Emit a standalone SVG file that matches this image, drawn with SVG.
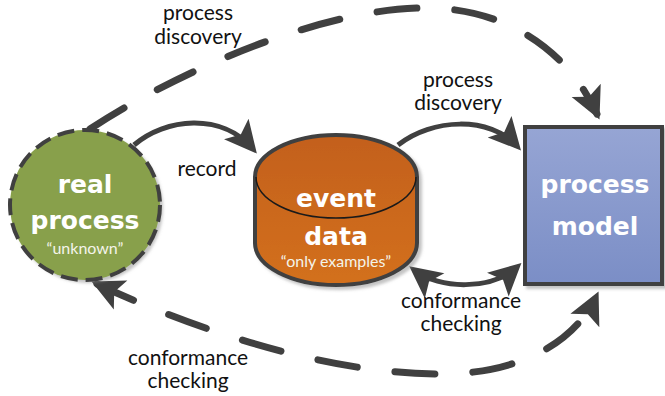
<svg xmlns="http://www.w3.org/2000/svg" width="665" height="396" viewBox="0 0 665 396">
<defs>
<style>
.lbl{font-family:Lato,"Liberation Sans",sans-serif;font-size:21px;fill:#111;text-anchor:middle}
.big{font-family:"DejaVu Sans",sans-serif;font-weight:bold;font-size:25px;fill:#fff;text-anchor:middle}
.sub{font-family:Lato,"Liberation Sans",sans-serif;font-size:16px;fill:#f4f4ea;text-anchor:middle}
.conn{fill:none;stroke:#404040;stroke-width:5}
.dash{fill:none;stroke:#404040;stroke-width:7;stroke-linecap:round;stroke-dasharray:40 38}
</style>
<marker id="ah" markerUnits="userSpaceOnUse" markerWidth="70" markerHeight="70" viewBox="-35 -35 70 70" refX="0" refY="0" orient="auto-start-reverse" overflow="visible">
<path d="M6,0 L-26,-16 L-19,0 L-26,16 Z" fill="#404040"/>
</marker>
<linearGradient id="gRect" x1="0" y1="0" x2="0" y2="1"><stop offset="0" stop-color="#96a5d4"/><stop offset="1" stop-color="#7b8ec6"/></linearGradient>
<linearGradient id="gCyl" x1="0" y1="0" x2="0" y2="1"><stop offset="0" stop-color="#c3601a"/><stop offset="1" stop-color="#d3701f"/></linearGradient>
<filter id="sh" x="-10%" y="-10%" width="130%" height="130%"><feDropShadow dx="3" dy="3" stdDeviation="1.5" flood-color="#888" flood-opacity="0.5"/></filter>
</defs>

<g id="connectors">
<path class="dash" d="M90,129 C180,70 320,10 420,8 C510,6 570,55 597,114" marker-end="url(#ah)"/>
<path class="dash" d="M97,284 C200,332 330,374 440,374 C530,374 578,335 596,297" marker-start="url(#ah)" marker-end="url(#ah)"/>
<path class="conn" d="M134,145 C165,118 222,112 253,149" marker-end="url(#ah)"/>
<path class="conn" d="M398,145 C432,118 490,116 517,146" marker-end="url(#ah)"/>
<path class="conn" d="M414,270 C440,290 492,290 517,267" marker-start="url(#ah)" marker-end="url(#ah)"/>
</g>

<g id="real-process">
<circle cx="85" cy="205" r="75" fill="#88a04c" filter="url(#sh)"/>
<circle cx="85" cy="205" r="75" fill="none" stroke="#404040" stroke-width="4" stroke-dasharray="17 8"/>
<text class="big" x="85" y="193">real</text>
<text class="big" x="85" y="229">process</text>
<text class="sub" x="85" y="254">“unknown”</text>
</g>

<g id="event-data">
<path d="M255,177 L255,243 A81,42 0 0 0 417,243 L417,177 A81,42 0 0 0 255,177 Z" fill="url(#gCyl)" stroke="#404040" stroke-width="4" filter="url(#sh)"/>
<path d="M256,177 A80,41 0 0 0 416,177" fill="none" stroke="#1a1a1a" stroke-width="1.5"/>
<text class="big" x="336" y="207">event</text>
<text class="big" x="336" y="245">data</text>
<text class="sub" x="336" y="267">“only examples”</text>
</g>

<g id="process-model">
<rect x="525" y="127" width="137" height="157" fill="url(#gRect)" stroke="#404040" stroke-width="4" filter="url(#sh)"/>
<text class="big" x="595" y="193">process</text>
<text class="big" x="595" y="235">model</text>
</g>

<g id="labels">
<text class="lbl" x="198" y="20">process</text>
<text class="lbl" x="198" y="44">discovery</text>
<text class="lbl" x="207" y="176">record</text>
<text class="lbl" x="458" y="87">process</text>
<text class="lbl" x="458" y="110">discovery</text>
<text class="lbl" x="461" y="308">conformance</text>
<text class="lbl" x="461" y="331">checking</text>
<text class="lbl" x="188" y="365">conformance</text>
<text class="lbl" x="188" y="388">checking</text>
</g>
</svg>
